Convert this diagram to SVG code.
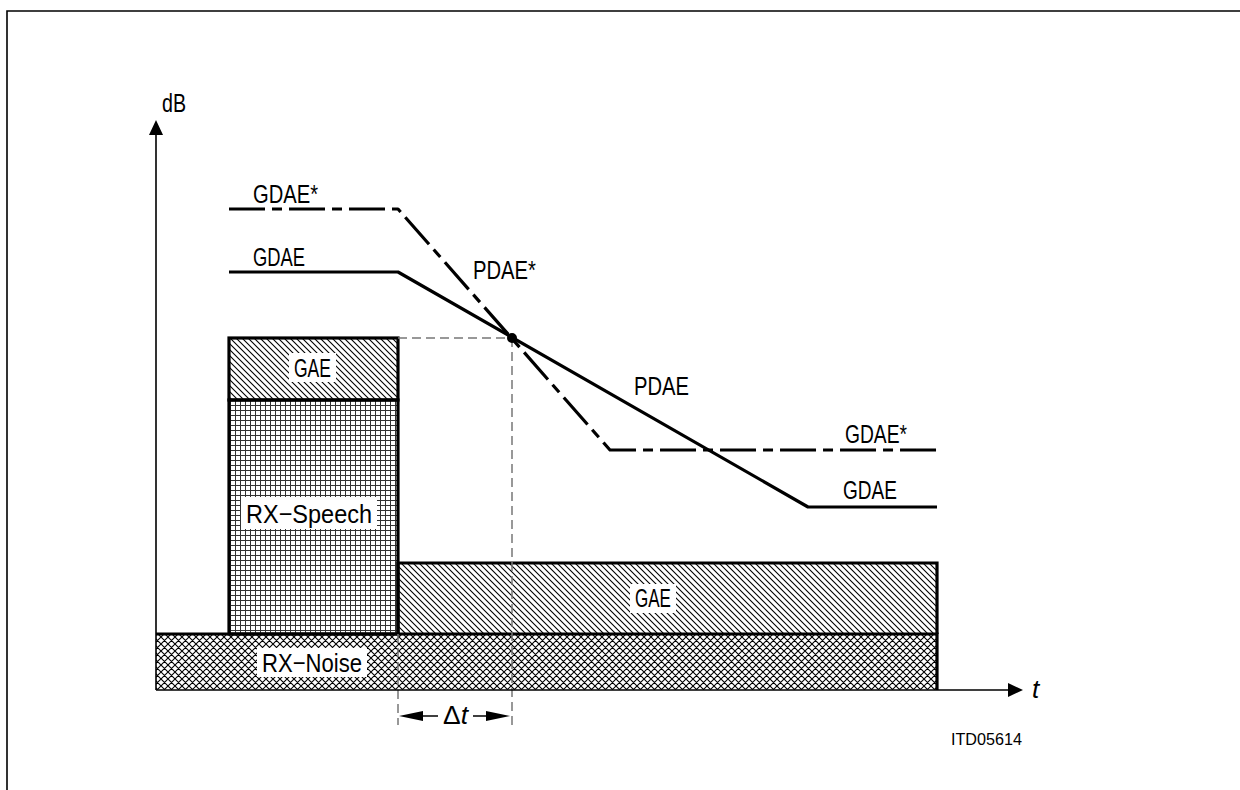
<svg xmlns="http://www.w3.org/2000/svg" width="1240" height="790" viewBox="0 0 1240 790">
<style>
  text { font-family: "Liberation Sans", "DejaVu Sans", sans-serif; fill: #000; }
  .lbl { font-size: 26px; }
  .thick { fill: none; stroke: #000; stroke-width: 3.2; }
  .curve { fill: none; stroke: #000; stroke-width: 3.2; stroke-linejoin: round; }
  .dashdot { stroke-dasharray: 36 7 10 7; }
  .guide { fill: none; stroke: #777; stroke-width: 1.5; stroke-dasharray: 9 5; }
  .axis { fill: none; stroke: #000; stroke-width: 1.6; }
  .bg { fill: #fff; }
</style>
<defs>
  <pattern id="diag" width="6" height="6" patternUnits="userSpaceOnUse">
    <path d="M0,0 L6,6 M-1,5 L1,7 M5,-1 L7,1" stroke="#000" stroke-width="1.1"/>
  </pattern>
  <pattern id="grid" width="5" height="5" patternUnits="userSpaceOnUse">
    <path d="M0,0.5 H5 M0.5,0 V5" stroke="#333" stroke-width="1"/>
  </pattern>
  <pattern id="cross" width="7" height="7" patternUnits="userSpaceOnUse">
    <path d="M0,0 L7,7 M7,0 L0,7 M-1,6 L1,8 M6,-1 L8,1 M-1,1 L1,-1 M6,8 L8,6" stroke="#000" stroke-width="1.1"/>
  </pattern>
</defs>

<rect width="1240" height="790" fill="#fff"/>
<path d="M7,790 V11 H1240" fill="none" stroke="#000" stroke-width="1.6"/>

<g id="rx-noise">
  <rect x="156" y="634" width="781" height="56" fill="url(#cross)"/>
  <path class="thick" d="M156,634 H937 V690"/>
  <rect class="bg" x="257" y="648" width="110" height="29"/>
  <text class="lbl" x="262" y="672" textLength="100" lengthAdjust="spacingAndGlyphs">RX−Noise</text>
</g>

<g id="gae-low">
  <rect x="398" y="563" width="539" height="71" fill="url(#diag)"/>
  <path class="thick" d="M398,634 V563 H937 V634"/>
  <rect class="bg" x="630" y="584" width="46" height="29"/>
  <text class="lbl" x="635" y="607" textLength="36" lengthAdjust="spacingAndGlyphs">GAE</text>
</g>

<g id="rx-speech">
  <rect x="229" y="400" width="169" height="234" fill="url(#grid)"/>
  <rect class="thick" x="229" y="400" width="169" height="234"/>
  <rect class="bg" x="241" y="497" width="136" height="32"/>
  <text class="lbl" x="246" y="523" textLength="126" lengthAdjust="spacingAndGlyphs">RX−Speech</text>
</g>

<g id="gae-top">
  <rect x="229" y="338" width="169" height="62" fill="url(#diag)"/>
  <rect class="thick" x="229" y="338" width="169" height="62"/>
  <rect class="bg" x="289" y="353" width="47" height="29"/>
  <text class="lbl" x="294" y="377" textLength="37" lengthAdjust="spacingAndGlyphs">GAE</text>
</g>

<g id="connectors">
  <path class="guide" d="M398,338 H512 M512,338 V725 M398,634 V725"/>
  <path class="curve" d="M229,272 H398 L808,507 H937"/>
  <path class="curve dashdot" d="M229,209 H398 L610,450 H937"/>
  <circle cx="512" cy="338" r="5" fill="#000"/>
  <path class="axis" d="M156,690 V130 M156,690 H1012"/>
  <polygon points="156,120 149,135 163,135" fill="#000"/>
  <polygon points="1023,690 1008,683 1008,697" fill="#000"/>
  <path class="axis" d="M420,716 H438 M473,716 H490"/>
  <polygon points="399,716 423,711 423,721" fill="#000"/>
  <polygon points="510,716 486,711 486,721" fill="#000"/>
</g>

<g id="labels">
  <text class="lbl" x="162" y="112" textLength="24" lengthAdjust="spacingAndGlyphs">dB</text>
  <text class="lbl" x="253" y="203" textLength="65" lengthAdjust="spacingAndGlyphs">GDAE*</text>
  <text class="lbl" x="253" y="266" textLength="52" lengthAdjust="spacingAndGlyphs">GDAE</text>
  <text class="lbl" x="473" y="279" textLength="63" lengthAdjust="spacingAndGlyphs">PDAE*</text>
  <text class="lbl" x="634" y="395" textLength="55" lengthAdjust="spacingAndGlyphs">PDAE</text>
  <text class="lbl" x="845" y="443" textLength="62" lengthAdjust="spacingAndGlyphs">GDAE*</text>
  <text class="lbl" x="843" y="499" textLength="54" lengthAdjust="spacingAndGlyphs">GDAE</text>
  <text class="lbl" x="1032" y="698" font-style="italic">t</text>
  <text class="lbl" x="443" y="724" textLength="25" lengthAdjust="spacingAndGlyphs">Δ<tspan font-style="italic">t</tspan></text>
  <text x="951" y="745" font-size="17" textLength="71" lengthAdjust="spacingAndGlyphs">ITD05614</text>
</g>
</svg>
